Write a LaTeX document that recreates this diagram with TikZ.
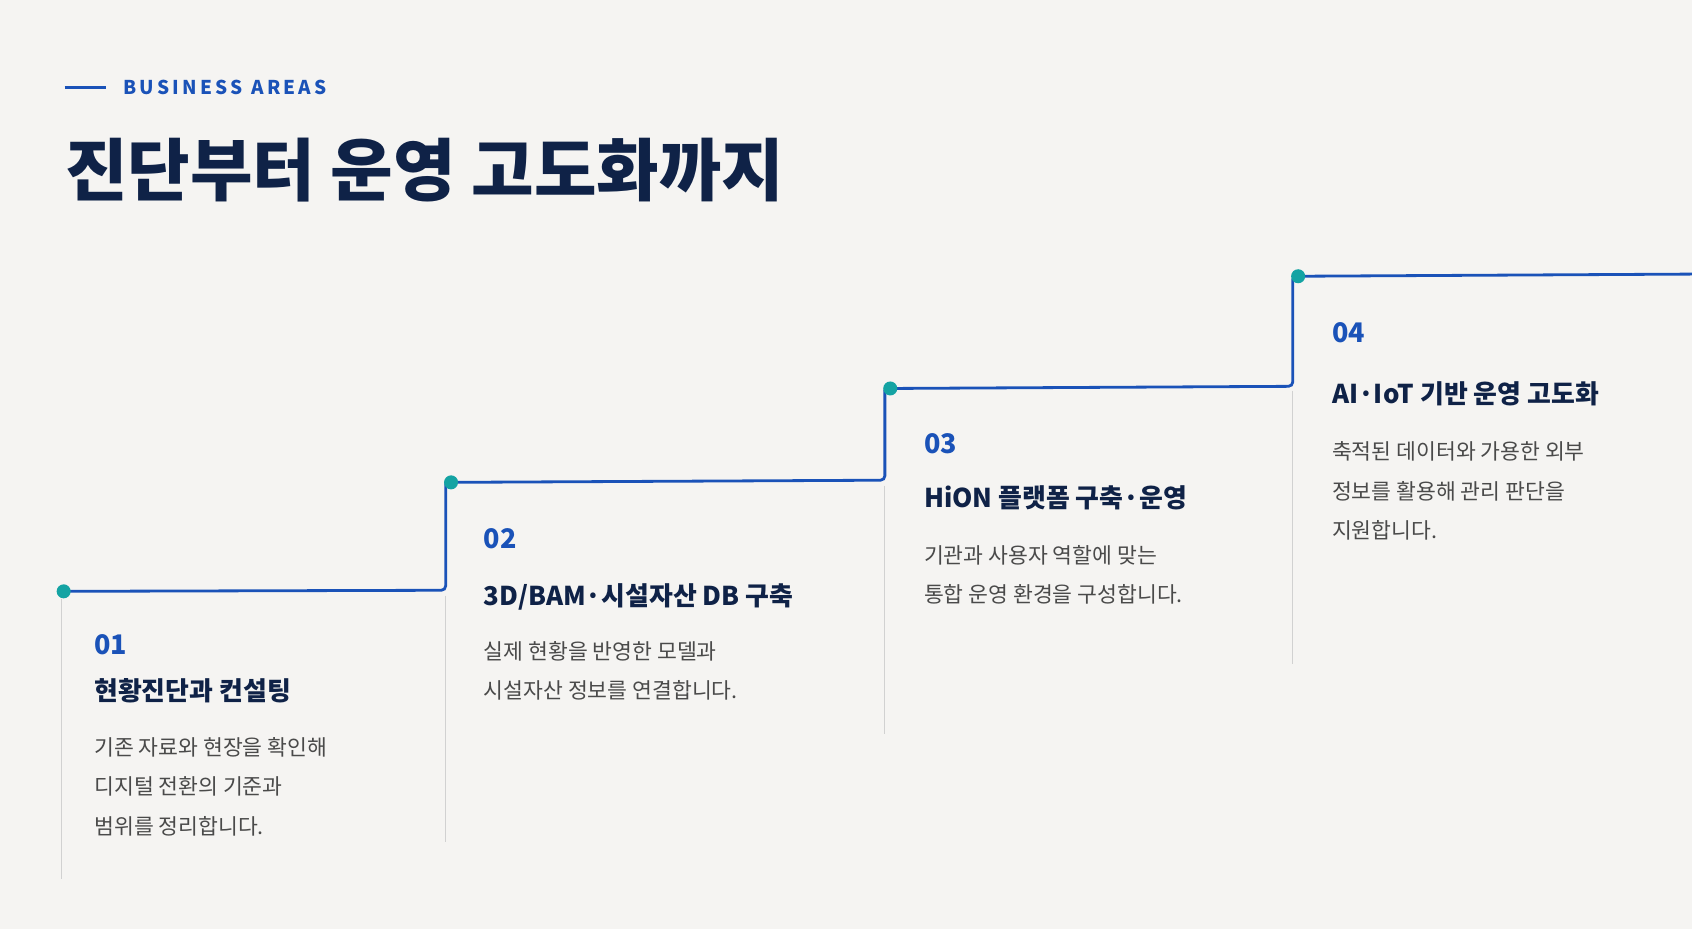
\documentclass[tikz,border=0pt]{standalone}
\usepackage{fontspec}
\setmainfont{Noto Sans CJK KR}
\definecolor{bg}{HTML}{F5F4F2}
\definecolor{navy}{HTML}{0F2247}
\definecolor{blu}{HTML}{1A52B8}
\definecolor{teal}{HTML}{14A3A3}
\definecolor{txt}{HTML}{4A4A4A}
\begin{document}
\begin{tikzpicture}[x=0.5pt,y=-0.5pt,
  num/.style={anchor=west,font=\fontsize{12.5}{14}\selectfont\bfseries,text=blu,inner sep=0},
  ttl/.style={anchor=west,font=\fontsize{12}{14}\selectfont\bfseries,text=navy,inner sep=0},
  dsc/.style={anchor=north west,align=left,font=\fontsize{10}{18.3}\selectfont,text=txt,inner sep=0},
  dot/.style={circle,fill=teal,minimum size=6.5pt,inner sep=0},
  stair/.style={draw=blu,line width=1.3pt,rounded corners=2pt},
  guide/.style={draw=black!18,line width=0.5pt}]
\fill[bg] (0,0) rectangle (1568,861);
\useasboundingbox (0,0) rectangle (1568,861);
\draw[blu,line width=1.3pt] (60,81) -- (98,81);
\node[anchor=west,inner sep=0,font=\fontsize{8.8}{10}\selectfont\bfseries,text=blu] (kick) at (114,81) {B\,U\,S\,I\,N\,E\,S\,S\ \ A\,R\,E\,A\,S};
\node[anchor=west,inner sep=0,font=\fontsize{31.5}{36}\selectfont\bfseries,text=navy] (title) at (60,158) {진단부터 운영 고도화까지};
% guides
\draw[guide] (57,555) -- (57,815);
\draw[guide] (413,552) -- (413,780);
\draw[guide] (820,450) -- (820,680);
\draw[guide] (1198,362) -- (1198,615);
% steps
\coordinate (p1) at (59,548);
\coordinate (p2) at (418,447);
\coordinate (p3) at (825,360);
\coordinate (p4) at (1203,256);
\coordinate (e4) at (1568,254);
\draw[stair] (p1) -- (413,547) -- (413,445) -- (p2);
\draw[stair] (p2) -- (820,445) -- (820,358) -- (p3);
\draw[stair] (p3) -- (1198,358) -- (1198,255) -- (p4);
\draw[stair] (p4) -- (e4);
\node[dot] (d1) at (p1) {};
\node[dot] (d2) at (p2) {};
\node[dot] (d3) at (p3) {};
\node[dot] (d4) at (p4) {};
% texts
\node[num] (n1) at (87,597) {01};
\node[ttl] (t1) at (87,640) {현황진단과 컨설팅};
\node[dsc] (s1) at (87,683) {기존 자료와 현장을 확인해\\디지털 전환의 기준과\\범위를 정리합니다.};
\node[num] (n2) at (448,499) {02};
\node[ttl] (t2) at (448,553) {3D/BAM·시설자산 DB 구축};
\node[dsc] (s2) at (448,594) {실제 현황을 반영한 모델과\\시설자산 정보를 연결합니다.};
\node[num] (n3) at (856,411) {03};
\node[ttl] (t3) at (856,461) {HiON 플랫폼 구축·운영};
\node[dsc] (s3) at (856,505) {기관과 사용자 역할에 맞는\\통합 운영 환경을 구성합니다.};
\node[num] (n4) at (1234,308) {04};
\node[ttl] (t4) at (1234,365) {AI·IoT 기반 운영 고도화};
\node[dsc] (s4) at (1234,409) {축적된 데이터와 가용한 외부\\정보를 활용해 관리 판단을\\지원합니다.};
\end{tikzpicture}
\end{document}
